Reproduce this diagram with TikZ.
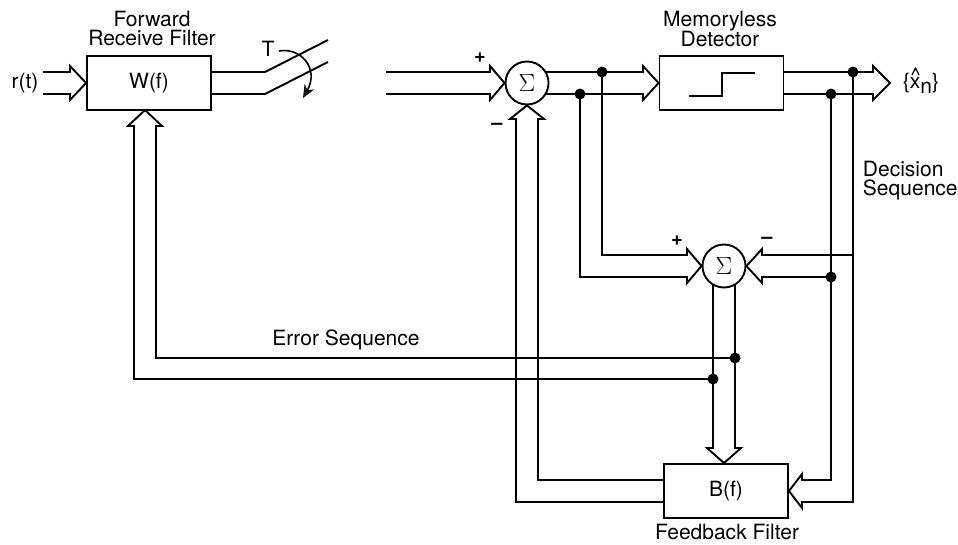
\documentclass[tikz,border=0pt]{standalone}
\usepackage{fontspec}
\setmainfont{TeX Gyre Heros}
\usetikzlibrary{arrows.meta,calc}
\begin{document}
\begin{tikzpicture}[x=1pt,y=-1pt,line width=1.9pt,line join=miter,
  lbl/.style={font=\fontsize{21}{19}\selectfont,inner sep=0pt},
  sgn/.style={font=\fontsize{20}{20}\selectfont\bfseries,inner sep=0pt},
  blk/.style={draw,minimum width=124pt,minimum height=54pt,inner sep=0pt,font=\fontsize{21}{19}\selectfont},
  sumc/.style={draw,circle,minimum size=43pt,inner sep=0pt,font=\fontsize{25}{25}\selectfont},
  dotc/.style={circle,fill,inner sep=0pt,minimum size=11pt}]
\useasboundingbox (0,0) rectangle (958,544);

% blocks
\node[blk] (W) at (149,83) {W(f)};
\node[blk] (D) at (721.5,83) {};
\node[blk] (B) at (726,491) {B(f)};
\node[sumc] (S1) at (527,83) {$\Sigma$};
\node[sumc] (S2) at (724,266) {$\Sigma$};
\coordinate (Wtip) at (145,110);
\coordinate (xo) at (890,83);

% step symbol in detector
\draw ($(D.center)+(-32.5,13)$) -- ($(D.center)+(0.5,13)$) -- ($(D.center)+(0.5,-10)$) -- ($(D.center)+(33.5,-10)$);

% input r(t)
\draw (43,72) -- (70,72) -- (70,66) -- (W.west) -- (70,100) -- (70,94) -- (43,94);

% W output and sampling switch
\draw (211,72) -- (265,72) -- (328,40);
\draw (211,94) -- (265,94) -- (328,62);
\draw[-{Stealth[length=13pt,width=11pt]},line width=1.6pt] (279,51) .. controls (300,47) and (320,68) .. (303,98);

% input to first summer
\draw (386,72) -- (490,72) -- (490,66) -- (S1.west) -- (490,100) -- (490,94) -- (386,94);

% first summer to detector
\draw (545.5,72) -- (643,72) -- (643,66) -- (D.west) -- (643,100) -- (643,94) -- (545.5,94);

% detector output
\draw (783,72) -- (873,72) -- (873,66) -- (xo) -- (873,100) -- (873,94) -- (783,94);

% taps to second summer (left)
\draw (602,72) -- (602,255) -- (687,255) -- (687,249) -- (S2.west) -- (687,283) -- (687,277) -- (580,277) -- (580,94);

% decisions to second summer (right)
\draw (853,255) -- (762,255) -- (762,249) -- (S2.east) -- (762,283) -- (762,277) -- (831,277);

% decisions to B(f)
\draw (853,72) -- (853,502) -- (802,502) -- (802,508) -- (B.east) -- (802,474) -- (802,480) -- (831,480) -- (831,94);

% second summer output to B(f)
\draw (713,284.5) -- (713,448) -- (707,448) -- (S2|-B.north) -- (741,448) -- (735,448) -- (735,284.5);

% error sequence back to W(f)
\draw (735,358) -- (156,358) -- (156,126) -- (162,126) -- (Wtip) -- (128,126) -- (134,126) -- (134,379) -- (713,379);

% B(f) output back to first summer
\draw (664,480) -- (538,480) -- (538,119) -- (544,119) -- (S1.south) -- (510,119) -- (516,119) -- (516,502) -- (664,502);

% junction dots
\node[dotc] (d1) at (602,72) {};
\node[dotc] (d2) at (580,94) {};
\node[dotc] (d3) at (853,72) {};
\node[dotc] (d4) at (831,94) {};
\node[dotc] (d5) at (831,277) {};
\node[dotc] (d6) at (735,358) {};
\node[dotc] (d7) at (713,379) {};

% labels
\node[lbl] (rt) at (25,83) {r(t)};
\node[lbl,align=center] (fwd) at (152,29) {Forward\\Receive Filter};
\node[lbl] (T) at (268,49) {T};
\node[lbl,align=center] (mem) at (720,29) {Memoryless\\Detector};
\node[lbl,anchor=west] (xh) at (902,83) {\{x\raisebox{-5pt}{n}\}};
\draw[line width=1.3pt,line join=round] (912,75) -- (915.5,68) -- (919,75);
\node[lbl,anchor=west,align=left] (dec) at (862,181) {Decision\\Sequence};
\node[lbl] (err) at (346,340) {Error Sequence};
\node[lbl] (fbf) at (727,532) {Feedback Filter};
\node[sgn] (p1) at (480,58) {+};
\node[sgn] (m1) at (497,126) {--};
\node[sgn] (p2) at (677,241) {+};
\node[sgn] (m2) at (767,240) {--};
\end{tikzpicture}
\end{document}
